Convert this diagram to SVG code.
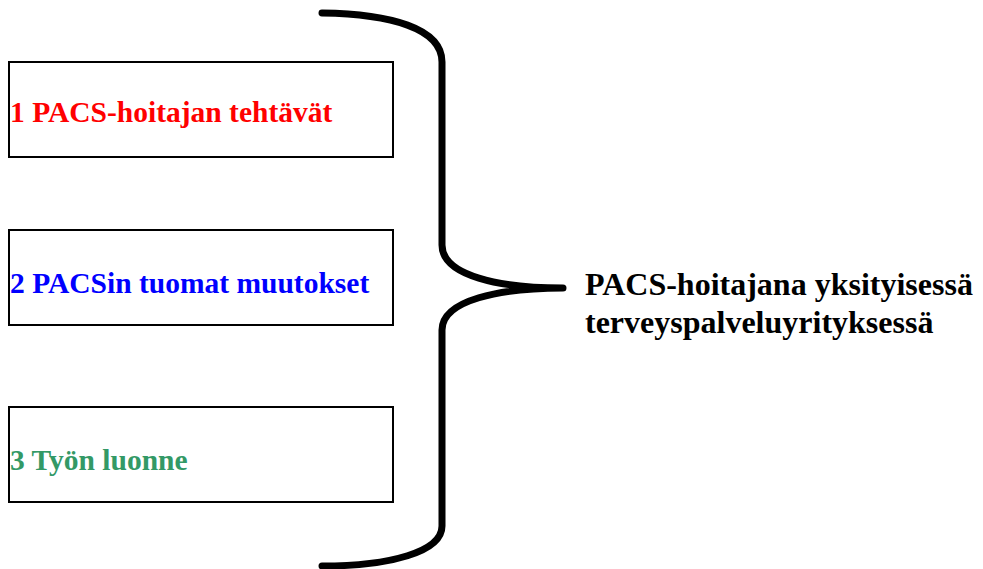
<svg xmlns="http://www.w3.org/2000/svg" width="983" height="569" viewBox="0 0 983 569">
<style>
.box{fill:#fff;stroke:#000;stroke-width:2}
.t{font-family:"Liberation Serif","Times New Roman",serif;font-weight:bold;font-size:29.5px}
.r{font-size:32px}
.brace{fill:none;stroke:#000;stroke-width:7;stroke-linecap:round;stroke-linejoin:round}
</style>
<rect width="983" height="569" fill="#fff"/>
<g id="node1"><rect class="box" x="9" y="62" width="384" height="95"/><text class="t" x="10" y="122" fill="#ff0000">1 PACS-hoitajan tehtävät</text></g>
<g id="node2"><rect class="box" x="9" y="230" width="384" height="95"/><text class="t" x="10" y="293" fill="#0000ff">2 PACSin tuomat muutokset</text></g>
<g id="node3"><rect class="box" x="9" y="407" width="384" height="95"/><text class="t" x="10" y="470" fill="#339966">3 Työn luonne</text></g>
<g id="connectors"><path class="brace" d="M322,13 C390,14 442,28 442,62 L442,245 C442,276 500,288 563,288 C500,288 442,300 442,330 L442,526 C442,552 390,566 322,566"/></g>
<g id="node4"><text class="t r" x="585" y="295" fill="#000">PACS-hoitajana yksityisessä</text><text class="t r" x="585" y="333" fill="#000">terveyspalveluyrityksessä</text></g>
</svg>
